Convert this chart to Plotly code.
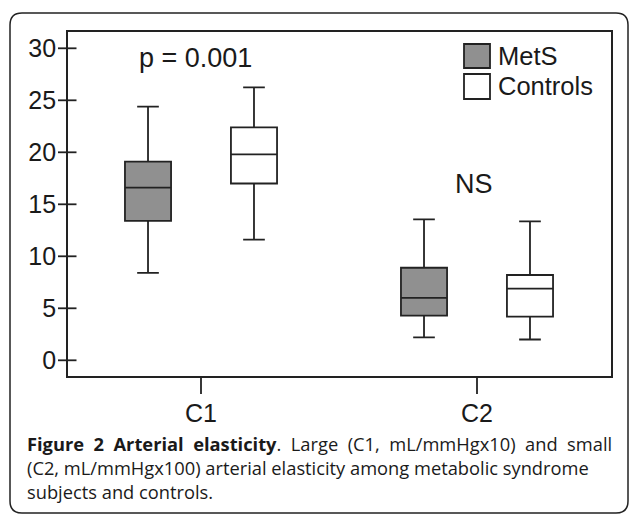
import plotly.graph_objects as go

# ---- data ----
categories = ["C1", "C2"]
mets_lower = [8.4, 2.2]
mets_q1 = [13.4, 4.3]
mets_median = [16.6, 6.0]
mets_q3 = [19.1, 8.9]
mets_upper = [24.4, 13.55]

ctrl_lower = [11.6, 2.0]
ctrl_q1 = [17.0, 4.2]
ctrl_median = [19.8, 6.9]
ctrl_q3 = [22.4, 8.2]
ctrl_upper = [26.25, 13.35]

y_ticks = [0, 5, 10, 15, 20, 25, 30]
series_names = ["MetS", "Controls"]

W, H = 629, 514
L, R, T, B = 68, 611, 32, 376
PW, PH = R - L, B - T

def px(x):
    return (x - L) / PW

def py(y):
    return (B - y) / PH

LINE = "#222222"
GRAY = "#909090"
FAM = "Liberation Sans, Arial, Helvetica, sans-serif"
AX_FONT = dict(family=FAM, size=25, color="#1a1a1a")
LEG_FONT = dict(family=FAM, size=25.5, color="#1a1a1a")
ANN_FONT = dict(family=FAM, size=27, color="#1a1a1a")
LW = 1.8

fig = go.Figure()
fig.add_trace(go.Box(
    name=series_names[0], x=categories, q1=mets_q1, median=mets_median, q3=mets_q3,
    lowerfence=mets_lower, upperfence=mets_upper,
    fillcolor=GRAY, line=dict(color=LINE, width=LW), whiskerwidth=0.47,
    boxpoints=False, showlegend=False, hoverinfo="skip",
))
fig.add_trace(go.Box(
    name=series_names[1], x=categories, q1=ctrl_q1, median=ctrl_median, q3=ctrl_q3,
    lowerfence=ctrl_lower, upperfence=ctrl_upper,
    fillcolor="white", line=dict(color=LINE, width=LW), whiskerwidth=0.47,
    boxpoints=False, showlegend=False, hoverinfo="skip",
))

x0 = (L - 201) / 276
x1 = (R - 201) / 276
y0 = -(B - 360.3) / 10.4
y1 = (360.3 - T) / 10.4

fig.update_layout(
    width=W, height=H,
    margin=dict(l=L, r=W - R, t=T, b=H - B, pad=0),
    paper_bgcolor="white", plot_bgcolor="white",
    boxmode="group", boxgap=0.232, boxgroupgap=0.565,
    xaxis=dict(
        type="category", range=[x0, x1], showgrid=False, zeroline=False,
        showline=True, linecolor=LINE, linewidth=LW, mirror=True,
        ticks="outside", ticklen=14, tickwidth=LW, tickcolor="rgba(0,0,0,0)",
        tickfont=AX_FONT,
    ),
    yaxis=dict(
        range=[y0, y1], tickvals=y_ticks, showgrid=False, zeroline=False,
        showline=True, linecolor=LINE, linewidth=LW, mirror=True,
        ticks="outside", ticklen=5, tickwidth=LW, tickcolor="rgba(0,0,0,0)",
        tickfont=AX_FONT, ticklabelstandoff=0,
    ),
)

# tick marks: y ticks cross the axis, x ticks hang below it
for v in y_ticks:
    fig.add_shape(type="line", xref="paper", yref="y", x0=px(58), x1=px(76.5), y0=v, y1=v,
                  line=dict(color=LINE, width=LW))
for c in categories:
    fig.add_shape(type="line", xref="x", yref="paper", x0=c, x1=c, y0=py(376), y1=py(394),
                  line=dict(color=LINE, width=LW))

# legend (manual)
leg = [(series_names[0], GRAY, 44, 68), (series_names[1], "white", 74, 99)]
for name, col, ytop, ybot in leg:
    fig.add_shape(type="rect", xref="paper", yref="paper",
                  x0=px(464), x1=px(490), y0=py(ybot), y1=py(ytop),
                  fillcolor=col, line=dict(color=LINE, width=LW))
    fig.add_annotation(xref="paper", yref="paper", x=px(496), y=py((ytop + ybot) / 2),
                       text=name, showarrow=False, xanchor="left", yanchor="middle",
                       font=LEG_FONT)

fig.add_annotation(xref="paper", yref="paper", x=px(195), y=py(58), text="p = 0.001",
                   showarrow=False, xanchor="center", yanchor="middle", font=ANN_FONT)
fig.add_annotation(xref="paper", yref="paper", x=px(473.5), y=py(184), text="NS",
                   showarrow=False, xanchor="center", yanchor="middle", font=ANN_FONT)

# outer rounded frame
fx0, fy0, fx1, fy1, r = 10, 13, 628, 513, 12
path = (f"M {px(fx0 + r)},{py(fy0)} L {px(fx1 - r)},{py(fy0)} "
        f"Q {px(fx1)},{py(fy0)} {px(fx1)},{py(fy0 + r)} "
        f"L {px(fx1)},{py(fy1 - r)} Q {px(fx1)},{py(fy1)} {px(fx1 - r)},{py(fy1)} "
        f"L {px(fx0 + r)},{py(fy1)} Q {px(fx0)},{py(fy1)} {px(fx0)},{py(fy1 - r)} "
        f"L {px(fx0)},{py(fy0 + r)} Q {px(fx0)},{py(fy0)} {px(fx0 + r)},{py(fy0)} Z")
fig.add_shape(type="path", xref="paper", yref="paper", path=path,
              line=dict(color=LINE, width=1.5), fillcolor="rgba(0,0,0,0)", layer="below")

# caption (first line justified to the full width, as in the source)
CAP_FONT = dict(family="Open Sans, sans-serif", size=18.3, color="#1a1a1a")
SP = "&nbsp; "
cap_lines = [
    SP.join(["<b>Figure", "2", "Arterial", "elasticity</b>.", "Large", "(C1,",
             "mL/mmHgx10)", "and", "small"]),
    "(C2, mL/mmHgx100) arterial elasticity among metabolic syndrome",
    "subjects and controls.",
]
fig.add_annotation(xref="paper", yref="paper", x=px(25), y=py(467.3),
                   text="<br>".join(cap_lines), align="left",
                   showarrow=False, xanchor="left", yanchor="middle", font=CAP_FONT)

fig.write_html("out.html", config={"displayModeBar": False},
               post_script="document.body.style.margin='0px';document.body.style.padding='0px';")
